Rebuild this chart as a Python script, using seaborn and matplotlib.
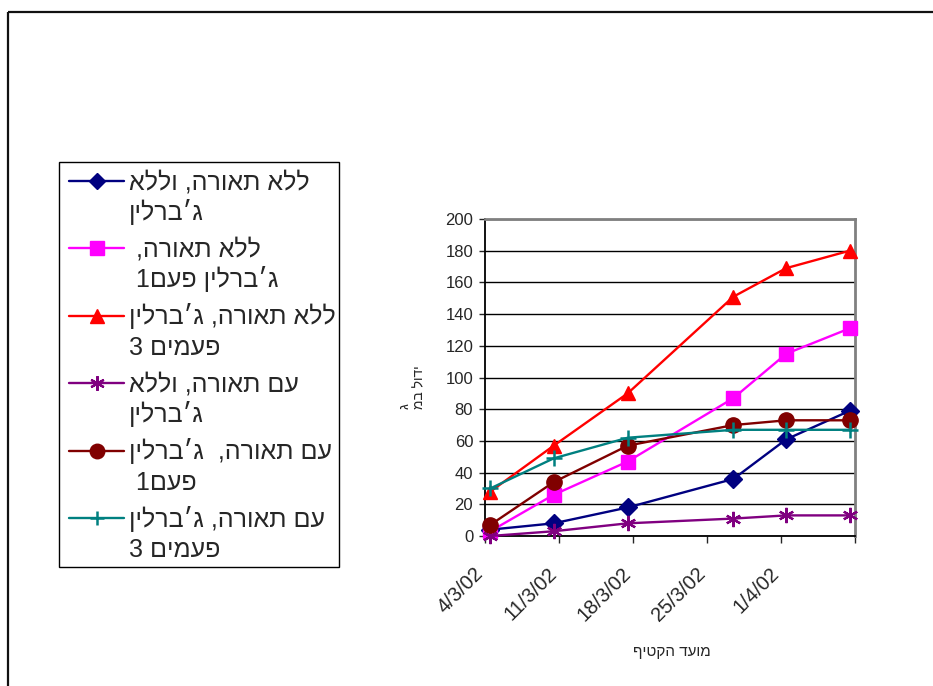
import numpy as np
import pandas as pd
import matplotlib
matplotlib.use("Agg")
import matplotlib.pyplot as plt
from matplotlib.patches import Rectangle
from matplotlib.transforms import ScaledTranslation
import seaborn as sns

# Set style for plots
sns.set_style("white")
plt.rcParams['font.family'] = ['Liberation Sans', 'DejaVu Sans']

# harvest dates (x) and tick labels
dates = pd.to_datetime(["2002-03-04", "2002-03-10", "2002-03-17",
                        "2002-03-27", "2002-04-01", "2002-04-07"])
tick_dates = pd.to_datetime(["2002-03-04", "2002-03-11", "2002-03-18",
                             "2002-03-25", "2002-04-01", "2002-04-08"])
tick_labels = ["4/3/02", "11/3/02", "18/3/02", "25/3/02", "1/4/02", ""]
y_ticks = [0, 20, 40, 60, 80, 100, 120, 140, 160, 180, 200]

# series values
no_light_no_ga = [4, 8, 18, 36, 61, 79]
no_light_ga1 = [3, 26, 47, 87, 115, 131]
no_light_ga3 = [28, 57, 90, 151, 169, 180]
light_no_ga = [0, 3, 8, 11, 13, 13]
light_ga1 = [7, 34, 57, 70, 73, 73]
light_ga3 = [30, 49, 62, 67, 67, 67]

# legend labels (logical order, one string per line)
labels = [
    ["ללא תאורה, וללא", "ג׳ברלין"],
    ["ללא תאורה, ", "ג׳ברלין פעם1 "],
    ["ללא תאורה, ג׳ברלין", "פעמים 3"],
    ["עם תאורה, וללא", "ג׳ברלין"],
    ["עם תאורה,  ג׳ברלין", "פעם1 "],
    ["עם תאורה, ג׳ברלין", "פעמים 3"],
]
x_title = "מועד הקטיף"
y_title = ["ג", "ידול במ"]


def rtl(s):
    # matplotlib has no bidi, so flip hebrew text to visual order
    return s[::-1]


series = [no_light_no_ga, no_light_ga1, no_light_ga3, light_no_ga, light_ga1, light_ga3]
colors = ["#000080", "#FF00FF", "#FF0000", "#800080", "#800000", "#008080"]
markers = ["D", "s", "^", (6, 2, 0), "o", "+"]
msizes = [9, 10.5, 10.5, 11, 11, 11]
mews = [1, 1, 1, 1.6, 1, 1.8]

W, H = 933, 686
fig = plt.figure(figsize=(W / 100, H / 100), dpi=100)
ax = fig.add_axes([485 / W, 1 - 536 / H, 370 / W, 317 / H])

# excel date axis: points sit in the middle of their day
x_plot = dates + pd.Timedelta(hours=12)
for vals, c, m, ms, mew in zip(series, colors, markers, msizes, mews):
    sns.lineplot(x=x_plot, y=vals, ax=ax, color=c, marker=m, markersize=ms,
                 markeredgecolor=c, markerfacecolor=c, markeredgewidth=mew,
                 linewidth=1.7, clip_on=False, legend=False, zorder=3)

ax.set_xlim(tick_dates[0], tick_dates[-1])
ax.set_ylim(0, 200)
ax.set_yticks(y_ticks)
ax.set_yticklabels([str(v) for v in y_ticks], fontsize=12)
ax.set_xticks(tick_dates)
ax.set_xticklabels(tick_labels, rotation=45, ha="right", va="center",
                   rotation_mode="anchor", fontsize=14.5)
ax.tick_params(axis="x", direction="out", length=5, width=1, pad=20, bottom=True)
ax.tick_params(axis="y", direction="out", length=4.5, width=1, pad=4, left=True)
shift = ScaledTranslation(-0.05, 0, fig.dpi_scale_trans)
for lab in ax.get_xticklabels():
    lab.set_transform(lab.get_transform() + shift)
ax.set_xlabel("")
ax.set_ylabel("")
ax.yaxis.grid(True, color="black", linewidth=1)
ax.set_axisbelow(True)
for side in ["left", "bottom"]:
    ax.spines[side].set_color("black")
    ax.spines[side].set_linewidth(1.3)
for side in ["top", "right"]:
    ax.spines[side].set_color("#808080")
    ax.spines[side].set_linewidth(2)

fig.text(672 / W, 1 - 652 / H, rtl(x_title), ha="center", va="center", fontsize=11)

# overlay in pixel coords for frame, legend and the clipped y title
ov = fig.add_axes([0, 0, 1, 1], zorder=5)
ov.set_xlim(0, W)
ov.set_ylim(H, 0)
ov.axis("off")
ov.plot([8, W], [11.5, 11.5], color="#111111", lw=1.6, solid_capstyle="butt")
ov.plot([8, 8], [11.5, H], color="#111111", lw=1.6, solid_capstyle="butt")

ov.add_patch(Rectangle((59, 162), 280, 405, facecolor="white", edgecolor="black", lw=1))
for i, (lab, c, m, ms, mew) in enumerate(zip(labels, colors, markers, msizes, mews)):
    y0 = 181 + 67.4 * i
    ov.plot([69, 124], [y0, y0], color=c, lw=1.7)
    ov.plot([96.5], [y0], color=c, marker=m, markersize=ms * 0.95,
            markeredgecolor=c, markeredgewidth=mew)
    for j, line in enumerate(lab):
        ov.text(129, y0 + 8.5 + 30.5 * j, rtl(line), ha="left", va="baseline", fontsize=18)

ov.text(412, 409, "\n".join(rtl(s) for s in y_title), rotation=90, ha="center",
        va="bottom", fontsize=10, multialignment="left", linespacing=1.0)

fig.savefig("out.png", dpi=100, facecolor="white")
